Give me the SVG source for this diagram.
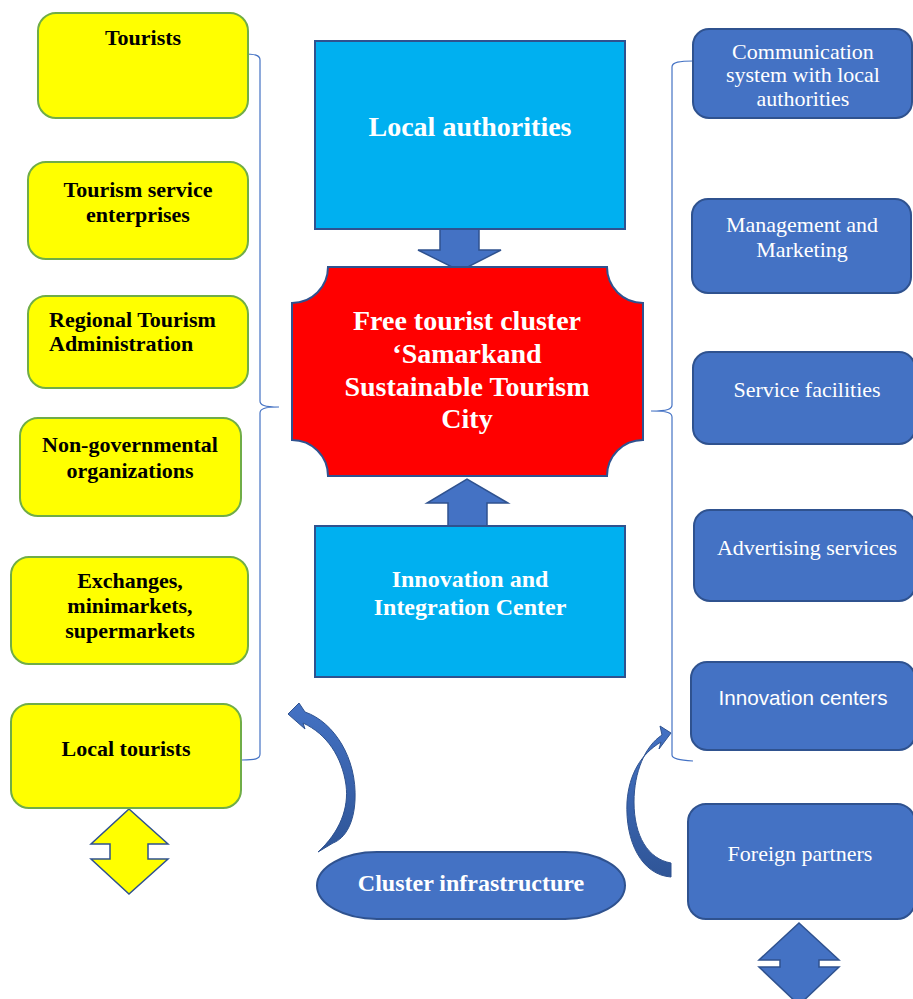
<svg xmlns="http://www.w3.org/2000/svg" width="913" height="999" viewBox="0 0 913 999">
  <defs>
    <linearGradient id="curveShade" x1="0" y1="0" x2="0" y2="1">
      <stop offset="0" stop-color="#4472C4"/>
      <stop offset="1" stop-color="#2F5597"/>
    </linearGradient>
    <style>
      .yel { fill: #FFFF00; stroke: #70AD47; stroke-width: 2; }
      .blu { fill: #4472C4; stroke: #2F528F; stroke-width: 2; }
      .cyan { fill: #00B0F0; stroke: #2F528F; stroke-width: 2; }
      .red { fill: #FF0000; stroke: #2F528F; stroke-width: 2; }
      .arrow { fill: #4472C4; stroke: #2F528F; stroke-width: 1.5; }
      .curve { fill: url(#curveShade); stroke: #2F528F; stroke-width: 1; }
      .brace { fill: none; stroke: #4472C4; stroke-width: 1.2; }
      .tb { font-family: "Liberation Serif", "Times New Roman", serif; font-weight: bold; font-size: 22px; fill: #000; text-anchor: middle; }
      .tw { font-family: "Liberation Serif", "Times New Roman", serif; font-weight: bold; fill: #FFFFFF; text-anchor: middle; }
      .tr { font-family: "Liberation Serif", "Times New Roman", serif; font-size: 22px; fill: #FFFFFF; text-anchor: middle; }
      .ts { font-family: "Liberation Sans", Arial, sans-serif; font-size: 20.7px; fill: #FFFFFF; text-anchor: middle; }
    </style>
  </defs>
  <rect width="913" height="999" fill="#FFFFFF"/>

  <!-- braces and arrows -->
  <g id="connectors">
    <path class="brace" d="M 242 54 C 255 54 260 55 260 60 L 260 401 C 260 405 264 407 279 407 C 264 407 260 409 260 413 L 260 754 C 260 759 255 760 242 760"/>
    <path class="brace" d="M 693 61 C 680 61 672 62 672 67 L 672 405 C 672 409 668 411 651 411 C 668 411 672 413 672 417 L 672 755 C 672 759 680 760 693 761"/>
    <!-- Local authorities -> cluster -->
    <path class="arrow" d="M 440 229 L 479 229 L 479 250 L 501 250 L 460 271 L 418 250 L 440 250 Z"/>
    <!-- Innovation center -> cluster -->
    <path class="arrow" d="M 448 526 L 448 503 L 427 503 L 467 479 L 508 503 L 487 503 L 487 526 Z"/>
    <!-- curved arrow from cluster infrastructure to the left column -->
    <path class="curve" d="M 318 852 C 340 832 349 808 346 785 C 342 757 327 734 303 723 L 305 729 L 288 714 L 299 703 L 305 712 C 334 722 357 758 355 800 C 354 822 346 838 333 843 Z"/>
    <!-- curved arrow from foreign partners to the right column -->
    <path class="curve" d="M 671 877 C 642 875 625 842 627 802 C 629 774 641 754 661 742 L 659 749 L 671 733 L 660 726 L 662 735 C 645 746 634 772 634 802 C 634 836 648 859 671 863 Z"/>
    <!-- up/down arrows under the columns -->
    <path d="M 129 809 L 168 844 L 148 844 L 148 859 L 168 859 L 129 894 L 91 859 L 110 859 L 110 844 L 91 844 Z" fill="#FFFF00" stroke="#2F528F" stroke-width="1.5"/>
    <path class="arrow" d="M 799 923 L 839 960 L 819 960 L 819 967 L 839 967 L 799 1005 L 759 967 L 780 967 L 780 960 L 759 960 Z"/>
  </g>

  <!-- left column -->
  <g id="tourists">
    <rect class="yel" x="38" y="13" width="210" height="105" rx="18"/>
    <text class="tb" x="143" y="45">Tourists</text>
  </g>
  <g id="tourism-service">
    <rect class="yel" x="28" y="162" width="220" height="97" rx="18"/>
    <text class="tb" x="138" y="197">Tourism service</text>
    <text class="tb" x="138" y="222">enterprises</text>
  </g>
  <g id="regional-admin">
    <rect class="yel" x="28" y="296" width="220" height="92" rx="18"/>
    <text class="tb" x="49" y="327" style="text-anchor:start">Regional Tourism</text>
    <text class="tb" x="49" y="351" style="text-anchor:start">Administration</text>
  </g>
  <g id="ngo">
    <rect class="yel" x="20" y="418" width="221" height="98" rx="18"/>
    <text class="tb" x="130" y="452">Non-governmental</text>
    <text class="tb" x="130" y="478">organizations</text>
  </g>
  <g id="markets">
    <rect class="yel" x="11" y="557" width="237" height="107" rx="18"/>
    <text class="tb" x="130" y="588">Exchanges,</text>
    <text class="tb" x="130" y="613">minimarkets,</text>
    <text class="tb" x="130" y="638">supermarkets</text>
  </g>
  <g id="local-tourists">
    <rect class="yel" x="11" y="704" width="230" height="104" rx="18"/>
    <text class="tb" x="126" y="756">Local tourists</text>
  </g>

  <!-- centre column -->
  <g id="local-authorities">
    <rect class="cyan" x="315" y="41" width="310" height="188"/>
    <text class="tw" x="470" y="136" font-size="28">Local authorities</text>
  </g>
  <g id="cluster">
    <path class="red" d="M 328 267 L 607 267 A 36 36 0 0 0 643 303 L 643 440 A 36 36 0 0 0 607 476 L 328 476 A 36 36 0 0 0 292 440 L 292 303 A 36 36 0 0 0 328 267 Z"/>
    <text class="tw" x="467" y="330" font-size="28">Free tourist cluster</text>
    <text class="tw" x="467" y="363" font-size="28">‘Samarkand</text>
    <text class="tw" x="467" y="396" font-size="28">Sustainable Tourism</text>
    <text class="tw" x="467" y="428" font-size="28">City</text>
  </g>
  <g id="innovation-integration">
    <rect class="cyan" x="315" y="526" width="310" height="151"/>
    <text class="tw" x="470" y="587" font-size="24">Innovation and</text>
    <text class="tw" x="470" y="615" font-size="24">Integration Center</text>
  </g>
  <g id="cluster-infrastructure">
    <rect class="blu" x="317" y="852" width="308" height="67" rx="60" ry="33.5"/>
    <text class="tw" x="471" y="891" font-size="24">Cluster infrastructure</text>
  </g>

  <!-- right column -->
  <g id="communication">
    <rect class="blu" x="693" y="29" width="219" height="89" rx="16"/>
    <text class="tr" x="803" y="59" font-size="17.5">Communication</text>
    <text class="tr" x="803" y="82" font-size="17.5">system with local</text>
    <text class="tr" x="803" y="106" font-size="17.5">authorities</text>
  </g>
  <g id="management">
    <rect class="blu" x="692" y="199" width="219" height="94" rx="16"/>
    <text class="tr" x="802" y="232">Management and</text>
    <text class="tr" x="802" y="257">Marketing</text>
  </g>
  <g id="service-facilities">
    <rect class="blu" x="693" y="352" width="222" height="92" rx="16"/>
    <text class="tr" x="807" y="397">Service facilities</text>
  </g>
  <g id="advertising">
    <rect class="blu" x="694" y="510" width="221" height="91" rx="16"/>
    <text class="tr" x="807" y="555">Advertising services</text>
  </g>
  <g id="innovation-centers">
    <rect class="blu" x="691" y="662" width="224" height="88" rx="16"/>
    <text class="ts" x="803" y="705">Innovation centers</text>
  </g>
  <g id="foreign-partners">
    <rect class="blu" x="688" y="804" width="227" height="115" rx="18"/>
    <text class="tr" x="800" y="861">Foreign partners</text>
  </g>
</svg>
